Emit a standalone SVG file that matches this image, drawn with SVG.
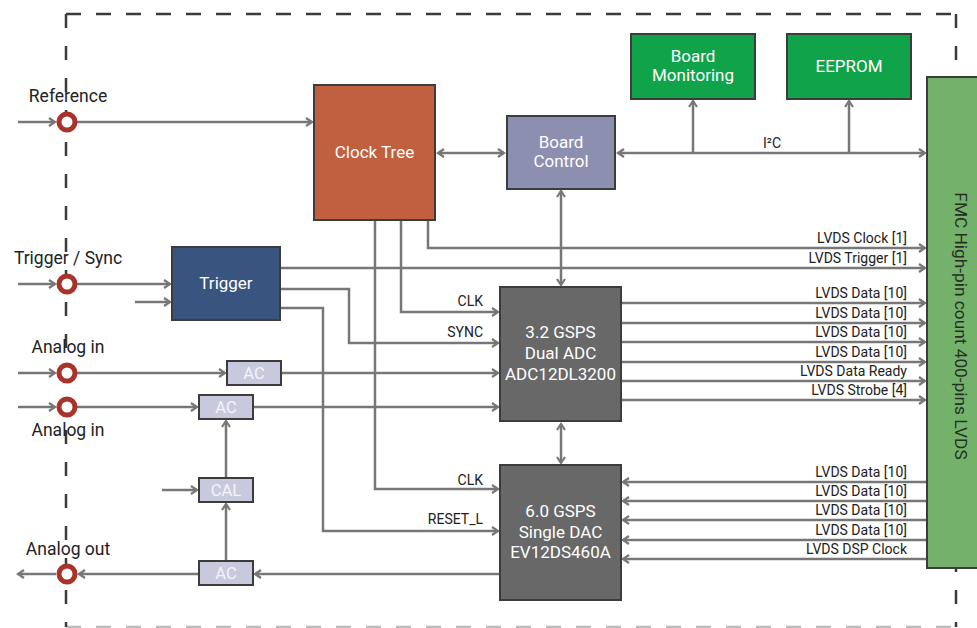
<svg xmlns="http://www.w3.org/2000/svg" width="977" height="628" viewBox="0 0 977 628">
<style>
  .ln{fill:none;stroke:#777;stroke-width:2.5}
  .a{marker-end:url(#ah)}
  .b{marker-start:url(#ah);marker-end:url(#ah)}
  .box{stroke:#3c3c3c;stroke-width:2}
  .bt{font-family:Roboto,"Liberation Sans",sans-serif;font-size:17px;fill:#fff;text-anchor:middle}
  .act{font-family:Roboto,"Liberation Sans",sans-serif;font-size:16.5px;fill:#f4f4fa;text-anchor:middle}
  .lab{font-family:Roboto,"Liberation Sans",sans-serif;font-size:17.5px;fill:#222;text-anchor:middle}
  .sl{font-family:Roboto,"Liberation Sans",sans-serif;font-size:14px;fill:#222;text-anchor:end}
  .con{fill:#fff;stroke:#a8332a;stroke-width:5}
  .brd{stroke:#3a3a3a;stroke-width:2.5;stroke-dasharray:15 15;fill:none}
</style>
<defs>
  <marker id="ah" markerUnits="userSpaceOnUse" markerWidth="10" markerHeight="12" refX="7" refY="5" orient="auto-start-reverse" viewBox="0 0 10 10">
    <path d="M1,1 L7,5 L1,9" fill="none" stroke="#777" stroke-width="2.2"/>
  </marker>
</defs>
<rect width="977" height="628" fill="#fff"/>
<g id="border">
  <line class="brd" x1="66" y1="14" x2="956" y2="14"/>
  <line class="brd" x1="66" y1="627" x2="956" y2="627" style="stroke:#bbb"/>
  <line class="brd" x1="66" y1="14" x2="66" y2="627" style="stroke-dasharray:14 18"/>
  <line class="brd" x1="956" y1="14" x2="956" y2="627" style="stroke-dasharray:14 18"/>
</g>
<g id="connectors">
  <path class="ln a" d="M18,122 H55"/>
  <path class="ln a" d="M77,122 H312"/>
  <path class="ln b" d="M438,153 H504"/>
  <path class="ln b" d="M618,153 H925"/>
  <path class="ln a" d="M693,153 V101"/>
  <path class="ln a" d="M849,153 V101"/>
  <path class="ln b" d="M561,191 V285"/>
  <path class="ln b" d="M561,424 V463"/>
  <path class="ln a" d="M375,220 V489 H498"/>
  <path class="ln a" d="M401,220 V312 H498"/>
  <path class="ln a" d="M428,220 V248 H925"/>
  <path class="ln a" d="M281,268 H925"/>
  <path class="ln a" d="M281,289 H349 V343 H498"/>
  <path class="ln a" d="M281,308 H323 V531 H498"/>
  <path class="ln a" d="M18,284 H55"/>
  <path class="ln a" d="M77,284 H170"/>
  <path class="ln a" d="M135,302 H170"/>
  <path class="ln a" d="M18,373 H55"/>
  <path class="ln a" d="M77,373 H225"/>
  <path class="ln a" d="M282,373 H498"/>
  <path class="ln a" d="M18,407 H55"/>
  <path class="ln a" d="M77,407 H197"/>
  <path class="ln a" d="M254,407 H498"/>
  <path class="ln a" d="M162,490 H197"/>
  <path class="ln a" d="M226,478 V421"/>
  <path class="ln a" d="M226,561 V504"/>
  <path class="ln a" d="M500,574 H255"/>
  <path class="ln a" d="M199,574 H79"/>
  <path class="ln a" d="M56,574 H18"/>
  <path class="ln a" d="M622,303 H925"/>
  <path class="ln a" d="M622,323 H925"/>
  <path class="ln a" d="M622,342 H925"/>
  <path class="ln a" d="M622,362 H925"/>
  <path class="ln a" d="M622,381 H925"/>
  <path class="ln a" d="M622,400 H925"/>
  <path class="ln a" d="M927,482 H623"/>
  <path class="ln a" d="M927,501 H623"/>
  <path class="ln a" d="M927,520 H623"/>
  <path class="ln a" d="M927,540 H623"/>
  <path class="ln a" d="M927,559 H623"/>
</g>
<g id="connector-labels">
  <text class="sl" x="483" y="306">CLK</text>
  <text class="sl" x="483" y="337">SYNC</text>
  <text class="sl" x="483" y="485">CLK</text>
  <text class="sl" x="483" y="524">RESET_L</text>
  <text class="sl" x="907" y="243">LVDS Clock [1]</text>
  <text class="sl" x="907" y="263">LVDS Trigger [1]</text>
  <text class="sl" x="907" y="298">LVDS Data [10]</text>
  <text class="sl" x="907" y="318">LVDS Data [10]</text>
  <text class="sl" x="907" y="337">LVDS Data [10]</text>
  <text class="sl" x="907" y="357">LVDS Data [10]</text>
  <text class="sl" x="907" y="376">LVDS Data Ready</text>
  <text class="sl" x="907" y="395">LVDS Strobe [4]</text>
  <text class="sl" x="907" y="477">LVDS Data [10]</text>
  <text class="sl" x="907" y="496">LVDS Data [10]</text>
  <text class="sl" x="907" y="515">LVDS Data [10]</text>
  <text class="sl" x="907" y="535">LVDS Data [10]</text>
  <text class="sl" x="907" y="554">LVDS DSP Clock</text>
  <text class="sl" x="772" y="148" style="text-anchor:middle">I²C</text>
</g>
<g id="ref-conn"><circle class="con" cx="67" cy="122" r="8"/><text class="lab" x="68" y="102">Reference</text></g>
<g id="trig-conn"><circle class="con" cx="67" cy="284" r="8"/><text class="lab" x="68" y="264">Trigger / Sync</text></g>
<g id="ain1-conn"><circle class="con" cx="67" cy="373" r="8"/><text class="lab" x="68" y="353">Analog in</text></g>
<g id="ain2-conn"><circle class="con" cx="67" cy="407" r="8"/><text class="lab" x="68" y="436">Analog in</text></g>
<g id="aout-conn"><circle class="con" cx="67" cy="574" r="8"/><text class="lab" x="68" y="555">Analog out</text></g>
<g id="clock-tree"><rect class="box" x="314" y="85" width="121" height="135" fill="#c0603f"/><text class="bt" x="374.5" y="158">Clock Tree</text></g>
<g id="board-control"><rect class="box" x="507" y="116" width="108" height="73" fill="#8c8fb0"/><text class="bt" x="561" y="148">Board</text><text class="bt" x="561" y="167">Control</text></g>
<g id="board-monitoring"><rect class="box" x="631" y="34" width="124" height="65" fill="#11a34a"/><text class="bt" x="693" y="62">Board</text><text class="bt" x="693" y="81">Monitoring</text></g>
<g id="eeprom"><rect class="box" x="787" y="34" width="124" height="65" fill="#11a34a"/><text class="bt" x="849" y="72">EEPROM</text></g>
<g id="fmc"><rect class="box" x="927" y="77" width="60" height="491" fill="#74b26c"/><text class="bt" x="0" y="0" transform="translate(955,326) rotate(90)" style="fill:#233023;font-size:17.3px">FMC High-pin count 400-pins LVDS</text></g>
<g id="trigger"><rect class="box" x="172" y="247" width="108" height="73" fill="#3a5480"/><text class="bt" x="226" y="289">Trigger</text></g>
<g id="adc"><rect class="box" x="500" y="287" width="121" height="134" fill="#686868"/><text class="bt" x="560.5" y="338">3.2 GSPS</text><text class="bt" x="560.5" y="359">Dual ADC</text><text class="bt" x="560.5" y="380">ADC12DL3200</text></g>
<g id="dac"><rect class="box" x="500" y="465" width="121" height="135" fill="#686868"/><text class="bt" x="560.5" y="517">6.0 GSPS</text><text class="bt" x="560.5" y="538">Single DAC</text><text class="bt" x="560.5" y="558">EV12DS460A</text></g>
<g id="ac1"><rect class="box" x="227" y="361" width="54" height="24" fill="#c8c9dd"/><text class="act" x="254" y="379">AC</text></g>
<g id="ac2"><rect class="box" x="199" y="395" width="54" height="24" fill="#c8c9dd"/><text class="act" x="226" y="413">AC</text></g>
<g id="cal"><rect class="box" x="199" y="478" width="54" height="24" fill="#c8c9dd"/><text class="act" x="226" y="496">CAL</text></g>
<g id="ac3"><rect class="box" x="199" y="561" width="54" height="24" fill="#c8c9dd"/><text class="act" x="226" y="579">AC</text></g>
</svg>
